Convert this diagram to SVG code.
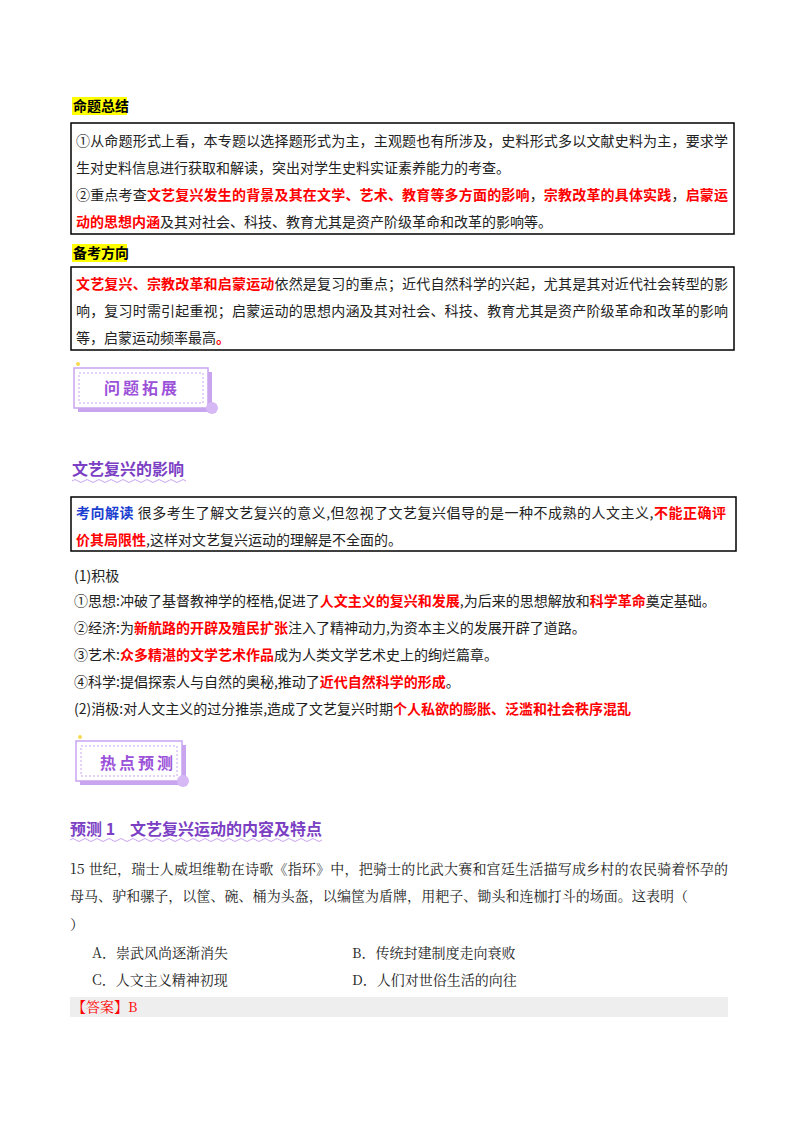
<svg xmlns="http://www.w3.org/2000/svg" width="800" height="1132" viewBox="0 0 800 1132">
<style>
text{font-family:"Noto Sans CJK SC","Liberation Sans",sans-serif;font-size:14px;fill:#222}
.s{font-family:"Noto Serif CJK SC","Noto Sans CJK SC",serif}
.r{fill:#f00;font-weight:bold}
.h{font-weight:bold;font-size:14px;fill:#000}
.p{fill:#7b3fc4;font-weight:bold;font-size:16px}
.bx{fill:none;stroke:#000;stroke-width:1.5}
.bn{fill:#fff;stroke:#c9a4ef;stroke-width:1.5}
.bt{fill:#9b52d9;font-weight:bold;font-size:16px;letter-spacing:3px}
</style>
<rect width="800" height="1132" fill="#fff"/>
<g id="summary">
<rect x="72" y="97" width="55" height="18" fill="#ffff00"/>
<text class="h" x="73" y="111">命题总结</text>
<rect class="bx" x="71" y="123" width="663" height="111"/>
<text x="76" y="146" textLength="652">①从命题形式上看，本专题以选择题形式为主，主观题也有所涉及，史料形式多以文献史料为主，要求学</text>
<text x="76" y="173">生对史料信息进行获取和解读，突出对学生史料实证素养能力的考查。</text>
<text x="76" y="200" textLength="652">②重点考查<tspan class="r">文艺复兴发生的背景及其在文学、艺术、教育等多方面的影响</tspan>，<tspan class="r">宗教改革的具体实践</tspan>，<tspan class="r">启蒙运</tspan></text>
<text x="76" y="227"><tspan class="r">动的思想内涵</tspan>及其对社会、科技、教育尤其是资产阶级革命和改革的影响等。</text>
</g>
<g id="direction">
<rect x="72" y="244" width="55" height="18" fill="#ffff00"/>
<text class="h" x="73" y="258">备考方向</text>
<rect class="bx" x="71" y="267" width="663" height="83"/>
<text x="76" y="289" textLength="652"><tspan class="r">文艺复兴、宗教改革和启蒙运动</tspan>依然是复习的重点；近代自然科学的兴起，尤其是其对近代社会转型的影</text>
<text x="76" y="316" textLength="652">响，复习时需引起重视；启蒙运动的思想内涵及其对社会、科技、教育尤其是资产阶级革命和改革的影响</text>
<text x="76" y="343">等，启蒙运动频率最高<tspan class="r">。</tspan></text>
</g>
<g id="banner1">
<rect x="78" y="372" width="134" height="40" fill="#c9a4ef"/>
<rect class="bn" x="74" y="368" width="134" height="40"/>
<rect x="79" y="373" width="124" height="30" fill="none" stroke="#c9a4ef" stroke-dasharray="2 2"/>
<circle cx="212" cy="408" r="6" fill="#d6b8f5"/>
<circle cx="78" cy="364" r="2" fill="#f5d94e"/>
<text class="bt" x="104" y="394">问题拓展</text>
</g>
<g id="influence">
<text class="p" x="72" y="475">文艺复兴的影响</text>
<path d="M72 481 q3 -3 6 0 t6 0 t6 0 t6 0 t6 0 t6 0 t6 0 t6 0 t6 0 t6 0 t6 0 t6 0 t6 0 t6 0 t6 0 t6 0 t6 0 t6 0 t6 0" fill="none" stroke="#c9a4ef"/>
<rect class="bx" x="71" y="497" width="665" height="54"/>
<text x="76" y="518" textLength="650"><tspan font-weight="bold" fill="#1a3fd0">考向解读</tspan>  很多考生了解文艺复兴的意义,但忽视了文艺复兴倡导的是一种不成熟的人文主义,<tspan class="r">不能正确评</tspan></text>
<text x="76" y="545"><tspan class="r">价其局限性</tspan>,这样对文艺复兴运动的理解是不全面的。</text>
<text x="74" y="581">(1)积极</text>
<text x="74" y="606">①思想:冲破了基督教神学的桎梏,促进了<tspan class="r">人文主义的复兴和发展</tspan>,为后来的思想解放和<tspan class="r">科学革命</tspan>奠定基础。</text>
<text x="74" y="633">②经济:为<tspan class="r">新航路的开辟及殖民扩张</tspan>注入了精神动力,为资本主义的发展开辟了道路。</text>
<text x="74" y="660">③艺术:<tspan class="r">众多精湛的文学艺术作品</tspan>成为人类文学艺术史上的绚烂篇章。</text>
<text x="74" y="687">④科学:提倡探索人与自然的奥秘,推动了<tspan class="r">近代自然科学的形成</tspan>。</text>
<text x="74" y="714">(2)消极:对人文主义的过分推崇,造成了文艺复兴时期<tspan class="r">个人私欲的膨胀、泛滥和社会秩序混乱</tspan></text>
</g>
<g id="banner2">
<rect x="80" y="745" width="106" height="40" fill="#c9a4ef"/>
<rect class="bn" x="76" y="741" width="106" height="40"/>
<rect x="81" y="746" width="96" height="30" fill="none" stroke="#c9a4ef" stroke-dasharray="2 2"/>
<circle cx="183" cy="781" r="6" fill="#d6b8f5"/>
<circle cx="80" cy="737" r="2" fill="#f5d94e"/>
<text class="bt" x="100" y="769">热点预测</text>
</g>
<g id="predict">
<text class="p" x="70" y="835">预测 1<tspan x="130">文艺复兴运动的内容及特点</tspan></text>
<path d="M70 840 q3 -3 6 0 t6 0 t6 0 t6 0 t6 0 t6 0 t6 0 t6 0 t6 0 t6 0 t6 0 t6 0 t6 0 t6 0 t6 0 t6 0 t6 0 t6 0 t6 0 t6 0 t6 0 t6 0 t6 0 t6 0 t6 0 t6 0 t6 0 t6 0 t6 0 t6 0 t6 0 t6 0 t6 0 t6 0 t6 0 t6 0 t6 0 t6 0 t6 0 t6 0 t6 0 t6 0" fill="none" stroke="#c9a4ef"/>
<text class="s" x="70" y="874" textLength="658">15 世纪，瑞士人威坦维勒在诗歌《指环》中，把骑士的比武大赛和宫廷生活描写成乡村的农民骑着怀孕的</text>
<text class="s" x="70" y="901" textLength="618">母马、驴和骡子，以筐、碗、桶为头盔，以编筐为盾牌，用耙子、锄头和连枷打斗的场面。这表明（</text>
<text class="s" x="70" y="929">）</text>
<text class="s" x="92" y="958">A．崇武风尚逐渐消失</text>
<text class="s" x="352" y="958">B．传统封建制度走向衰败</text>
<text class="s" x="92" y="985">C．人文主义精神初现</text>
<text class="s" x="352" y="985">D．人们对世俗生活的向往</text>
<rect x="70" y="997" width="658" height="20" fill="#eeeeee"/>
<text class="s" x="72" y="1012"><tspan fill="#f00">【答案】</tspan><tspan fill="#f00">B</tspan></text>
</g>
</svg>
